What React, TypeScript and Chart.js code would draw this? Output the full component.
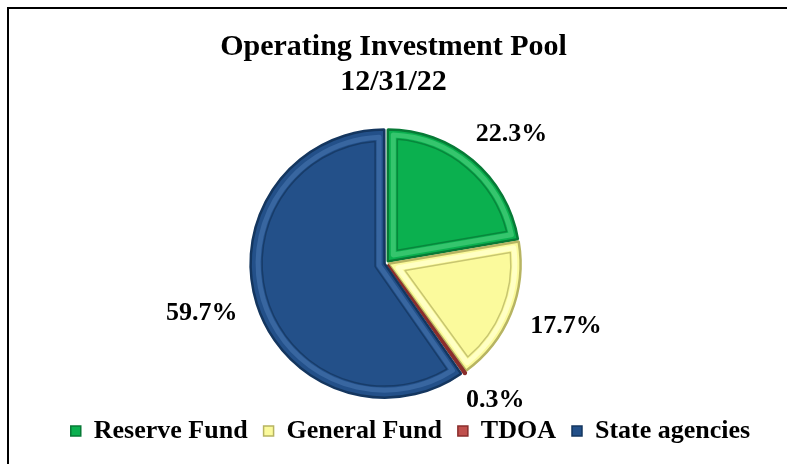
import React, { useEffect, useRef } from 'react';
import { Chart, registerables } from 'chart.js';

Chart.register(...registerables);

const TITLE_LINES = ['Operating Investment Pool', '12/31/22'];
const CATEGORIES = ['Reserve Fund', 'General Fund', 'TDOA', 'State agencies'];
const VALUES = [22.3, 17.7, 0.3, 59.7];
const VALUE_LABELS = ['22.3%', '17.7%', '0.3%', '59.7%'];
const FILL_COLORS = ['#0bb04f', '#fbfa9c', '#c0504d', '#235089'];
const EDGE_COLORS = ['#077a36', '#b7b462', '#8a2e2c', '#14365f'];
const BAND_COLORS = ['#35c56d', '#ffffc4', '#d77572', '#3866a0'];

const FONT = "'Liberation Serif', 'Times New Roman', serif";

function insetSectorPath(ctx: CanvasRenderingContext2D, cx: number, cy: number, r: number, a0: number, a1: number, d: number) {
  const half = (a1 - a0) / 2;
  const mid = (a0 + a1) / 2;
  const s = Math.sin(half);
  if (s <= 0.0001) return false;
  const apexDist = d / s;
  const ax = cx + Math.cos(mid) * apexDist;
  const ay = cy + Math.sin(mid) * apexDist;
  const R = r - d;
  if (R <= d) return false;
  const delta = Math.asin(Math.min(1, d / R));
  if (a1 - delta <= a0 + delta) return false;
  ctx.beginPath();
  ctx.moveTo(ax, ay);
  ctx.arc(cx, cy, R, a0 + delta, a1 - delta);
  ctx.closePath();
  return true;
}

const shiftPlugin = {
  id: 'shiftLayout',
  afterLayout(chart: any) {
    chart.chartArea.left -= 7;
    chart.chartArea.right -= 7;
    if (chart.legend) {
      chart.legend.left += 17;
      chart.legend.right += 17;
    }
  },
};

const bevelPlugin = {
  id: 'bevel',
  afterDatasetsDraw(chart: any) {
    const ctx = chart.ctx as CanvasRenderingContext2D;
    const meta = chart.getDatasetMeta(0);
    meta.data.forEach((arc: any, i: number) => {
      const p = arc.getProps(['x', 'y', 'startAngle', 'endAngle', 'outerRadius'], true);
      const off = (arc.options.offset || 0) / 4;
      const mid = (p.startAngle + p.endAngle) / 2;
      const cx = p.x + Math.cos(mid) * off;
      const cy = p.y + Math.sin(mid) * off;
      ctx.save();
      ctx.lineJoin = 'round';
      if (insetSectorPath(ctx, cx, cy, p.outerRadius, p.startAngle, p.endAngle, 5.5)) {
        ctx.strokeStyle = BAND_COLORS[i];
        ctx.lineWidth = 5;
        ctx.stroke();
      }
      if (insetSectorPath(ctx, cx, cy, p.outerRadius, p.startAngle, p.endAngle, 9.5)) {
        ctx.strokeStyle = EDGE_COLORS[i];
        ctx.globalAlpha = 0.75;
        ctx.lineWidth = 1.5;
        ctx.stroke();
      }
      ctx.restore();
    });
  },
};

const labelPlugin = {
  id: 'sliceLabels',
  afterDatasetsDraw(chart: any) {
    const ctx = chart.ctx as CanvasRenderingContext2D;
    const meta = chart.getDatasetMeta(0);
    ctx.save();
    ctx.font = `bold 26px ${FONT}`;
    ctx.fillStyle = '#000';
    ctx.textAlign = 'center';
    ctx.textBaseline = 'middle';
    meta.data.forEach((arc: any, i: number) => {
      const p = arc.getProps(['x', 'y', 'startAngle', 'endAngle', 'outerRadius'], true);
      const mid = (p.startAngle + p.endAngle) / 2;
      const ux = Math.cos(mid);
      const uy = Math.sin(mid);
      const w = ctx.measureText(VALUE_LABELS[i]).width;
      const h = 20;
      const R = p.outerRadius + 26;
      ctx.fillText(VALUE_LABELS[i], p.x + ux * R + (ux * w) / 2, p.y + uy * R + (uy * h) / 2);
    });
    ctx.restore();
  },
};

export default function App() {
  const canvasRef = useRef<HTMLCanvasElement | null>(null);

  useEffect(() => {
    if (!canvasRef.current) return;
    const chart = new Chart(canvasRef.current, {
      type: 'pie',
      data: {
        labels: CATEGORIES,
        datasets: [
          {
            data: VALUES,
            backgroundColor: FILL_COLORS,
            borderColor: EDGE_COLORS,
            borderWidth: 2.5,
            offset: 8,
          },
        ],
      },
      options: {
        responsive: false,
        animation: false,
        radius: 132,
        layout: { padding: { left: 0, right: 0, top: 0, bottom: 10 } },
        plugins: {
          tooltip: { enabled: false },
          title: {
            display: true,
            text: TITLE_LINES,
            color: '#000',
            font: { family: FONT, size: 30, weight: 'bold', lineHeight: 1.15 },
            padding: { top: 30, bottom: 25 },
          },
          legend: {
            position: 'bottom',
            labels: {
              color: '#000',
              font: { family: FONT, size: 26, weight: 'bold' },
              boxWidth: 10,
              boxHeight: 10,
              padding: 16,
              generateLabels: () =>
                CATEGORIES.map((c, i) => ({
                  text: c,
                  fillStyle: FILL_COLORS[i],
                  strokeStyle: EDGE_COLORS[i],
                  lineWidth: 1.5,
                  hidden: false,
                  index: i,
                  fontColor: '#000',
                })),
            },
          },
        },
      },
      plugins: [shiftPlugin, bevelPlugin, labelPlugin],
    });
    return () => chart.destroy();
  }, []);

  return (
    <div style={{ position: 'absolute', left: 0, top: 0, width: 787, height: 464, background: '#fff', overflow: 'hidden' }}>
      <div
        style={{
          position: 'absolute',
          left: 7,
          top: 7,
          width: 800,
          height: 480,
          borderLeft: '2px solid #000',
          borderTop: '2px solid #000',
        }}
      />
      <canvas ref={canvasRef} width={787} height={464} style={{ position: 'absolute', left: 0, top: 0 }} />
    </div>
  );
}
